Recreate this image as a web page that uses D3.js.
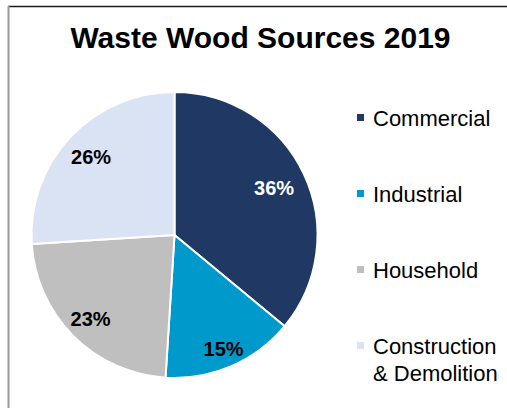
<!DOCTYPE html>
<html>
<head>
<meta charset="utf-8">
<script src="https://cdn.jsdelivr.net/npm/d3@7"></script>
<style>
  html, body { margin: 0; padding: 0; background: #fff; }
  svg { display: block; font-family: "Liberation Sans", Arial, sans-serif; }
</style>
</head>
<body>
<svg id="chart" width="507" height="408"></svg>
<script>
// Waste wood sources, share of total (2019)
const categories = ["Commercial", "Industrial", "Household", "Construction\n& Demolition"];
const shares = [36, 15, 23, 26];
const sliceColors = ["#203864", "#0099cc", "#bfbfbf", "#dae3f3"];
const labelColors = ["#ffffff", "#000000", "#000000", "#000000"];
// radial placement of each percentage label, as a fraction of the radius
const labelRadiusFraction = [0.77, 0.865, 0.83, 0.80];

const svg = d3.select("#chart");
const W = 507, H = 408;

// chart frame
svg.append("line").attr("x1", 8).attr("x2", W).attr("y1", 6.5).attr("y2", 6.5)
  .attr("stroke", "#1a1a1a").attr("stroke-width", 1.5);
svg.append("line").attr("x1", 8.5).attr("x2", 8.5).attr("y1", 6).attr("y2", H)
  .attr("stroke", "#9a9a9a").attr("stroke-width", 2);

// title
svg.append("text")
  .attr("x", 260.5).attr("y", 48)
  .attr("text-anchor", "middle")
  .attr("font-size", 30).attr("font-weight", "bold").attr("fill", "#000")
  .text("Waste Wood Sources 2019");

// pie
const cx = 174.5, cy = 235, r = 143;
const data = categories.map((c, i) => ({ name: c, value: shares[i], i }));
const pie = d3.pie().value(d => d.value).sort(null);
const arcs = pie(data);
const arcGen = d3.arc().innerRadius(0).outerRadius(r);

const g = svg.append("g").attr("transform", `translate(${cx},${cy})`);
g.selectAll("path.slice").data(arcs).join("path")
  .attr("class", "slice")
  .attr("d", arcGen)
  .attr("fill", d => sliceColors[d.data.i])
  .attr("stroke", "#fff").attr("stroke-width", 2).attr("stroke-linejoin", "round");

g.selectAll("text.pct").data(arcs).join("text")
  .attr("class", "pct")
  .attr("transform", d => {
    const lr = r * labelRadiusFraction[d.data.i];
    const c = d3.arc().innerRadius(lr).outerRadius(lr).centroid(d);
    return `translate(${c[0]},${c[1]})`;
  })
  .attr("text-anchor", "middle")
  .attr("dy", "0.36em")
  .attr("font-size", 20).attr("font-weight", "bold")
  .attr("fill", d => labelColors[d.data.i])
  .text(d => d.data.value + "%");

// legend
const legendY = d3.scalePoint().domain(categories).range([126, 354]);
const leg = svg.append("g");
categories.forEach((c, i) => {
  const y = legendY(c);
  leg.append("rect")
    .attr("x", 357).attr("y", y - 12).attr("width", 7).attr("height", 7)
    .attr("fill", sliceColors[i]);
  const t = leg.append("text")
    .attr("x", 373).attr("y", y)
    .attr("font-size", 22).attr("fill", "#000");
  c.split("\n").forEach((line, k) => {
    t.append("tspan").attr("x", 373).attr("dy", k === 0 ? 0 : 26.5).text(line);
  });
});
</script>
</body>
</html>
